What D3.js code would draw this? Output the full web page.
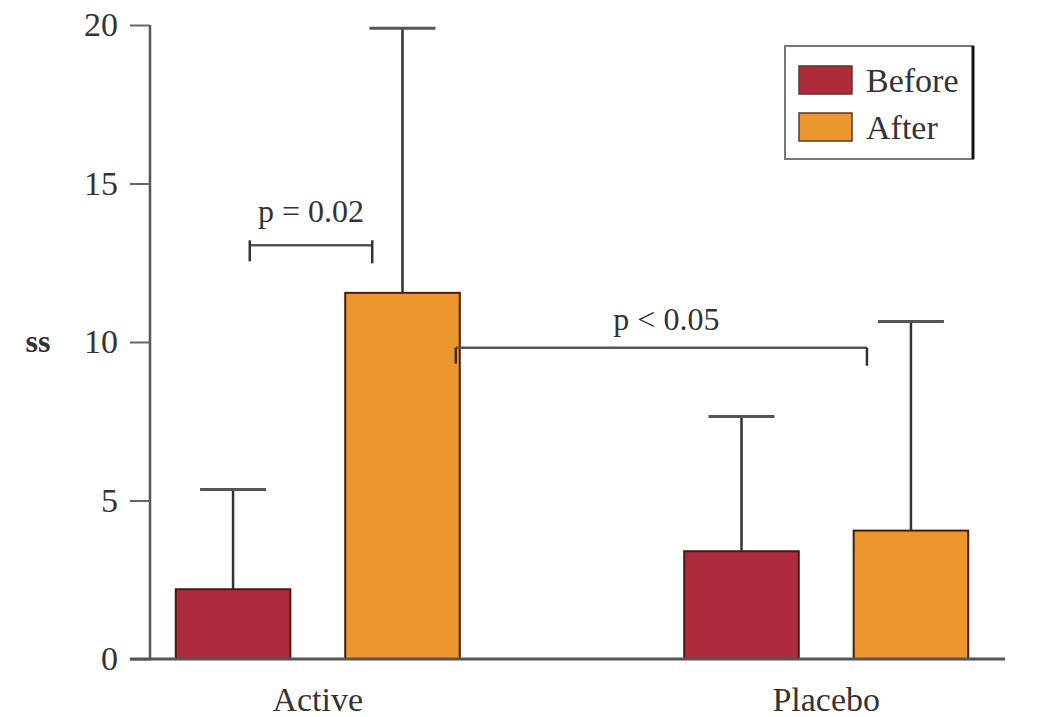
<!DOCTYPE html>
<html>
<head>
<meta charset="utf-8">
<script src="https://cdn.jsdelivr.net/npm/d3@7"></script>
<style>
  html, body { margin: 0; padding: 0; background: #fff; }
  svg { display: block; }
  text { font-family: "Liberation Serif", "DejaVu Serif", serif; fill: #333; }
</style>
</head>
<body>
<svg id="chart" width="1041" height="717"></svg>
<script>
// Groups and series
const groups = ["Active", "Placebo"];
const series = ["Before", "After"];
const colors = ["#ad2b3b", "#ec962e"];

// Mean and upper error (mean + SD) per group, per series
const beforeMean = [2.2, 3.4];
const beforeUpper = [5.35, 7.65];
const afterMean = [11.55, 4.05];
const afterUpper = [19.9, 10.65];

const yTicks = [0, 5, 10, 15, 20];

// Significance brackets: [group, series] at each end
const brackets = [
  { label: "p = 0.02", y: 13.05, from: [0, 0], to: [0, 1], leftEdge: false, textY: 14.05 },
  { label: "p < 0.05", y: 9.82, from: [0, 1], to: [1, 1], leftEdge: true, textY: 10.62 }
];

const rows = groups.map((g, i) => ({
  group: g,
  vals: [
    { s: 0, mean: beforeMean[i], upper: beforeUpper[i] },
    { s: 1, mean: afterMean[i], upper: afterUpper[i] }
  ]
}));

const svg = d3.select("#chart");
const x0 = 150, xEnd = 1005, yTop = 25, yBottom = 659;

const y = d3.scaleLinear().domain([0, 20]).range([yBottom, yTop]);
const gx = d3.scalePoint().domain(groups).range([x0, 994]).padding(0.33);
const bx = d3.scaleBand().domain(series).range([-142, 142]).paddingInner(0.324);

const barLeft = (gi, s) => gx(groups[gi]) + bx(series[s]);
const barCenter = (gi, s) => barLeft(gi, s) + bx.bandwidth() / 2;

// Bars
const grp = svg.selectAll("g.grp").data(rows).join("g")
  .attr("class", "grp")
  .attr("transform", d => `translate(${gx(d.group)},0)`);

grp.selectAll("rect").data(d => d.vals).join("rect")
  .attr("x", d => bx(series[d.s]))
  .attr("y", d => y(d.mean))
  .attr("width", bx.bandwidth())
  .attr("height", d => y(0) - y(d.mean))
  .attr("fill", d => colors[d.s])
  .attr("stroke", "#4a1a10")
  .attr("stroke-width", 2);

// Error bars (upper only)
const capW = 66;
const eb = grp.selectAll("g.eb").data(d => d.vals).join("g").attr("class", "eb")
  .attr("transform", d => `translate(${bx(series[d.s]) + bx.bandwidth() / 2},0)`);
eb.append("line")
  .attr("x1", 0).attr("x2", 0)
  .attr("y1", d => y(d.mean)).attr("y2", d => y(d.upper))
  .attr("stroke", "#333").attr("stroke-width", 2.5);
eb.append("line")
  .attr("x1", -capW / 2).attr("x2", capW / 2)
  .attr("y1", d => y(d.upper)).attr("y2", d => y(d.upper))
  .attr("stroke", "#555").attr("stroke-width", 3);

// Y axis
const yAxis = d3.axisLeft(y).tickValues(yTicks).tickSize(20).tickPadding(12).tickFormat(d3.format("d"));
const ya = svg.append("g").attr("transform", `translate(${x0},0)`).call(yAxis);
ya.select(".domain").attr("stroke", "#555").attr("stroke-width", 2.5).attr("d", `M0,${yTop}V${yBottom}`);
ya.selectAll(".tick line").attr("stroke", "#666").attr("stroke-width", 2);
ya.selectAll(".tick text").attr("font-size", 34).attr("fill", "#666")
  .attr("font-family", "'Liberation Serif', serif");

// X axis baseline
svg.append("line")
  .attr("x1", x0 - 20).attr("x2", xEnd)
  .attr("y1", y(0)).attr("y2", y(0))
  .attr("stroke", "#555").attr("stroke-width", 3);

// Group labels
svg.selectAll("text.glabel").data(groups).join("text")
  .attr("class", "glabel")
  .attr("x", d => gx(d))
  .attr("y", 711)
  .attr("text-anchor", "middle")
  .attr("font-size", 34)
  .attr("fill", "#444")
  .text(d => d);

// Y label
svg.append("text")
  .attr("x", 38).attr("y", 352)
  .attr("text-anchor", "middle")
  .attr("font-size", 32)
  .attr("font-weight", "bold")
  .attr("fill", "#111")
  .text("ss");

// Significance brackets
brackets.forEach(b => {
  const xa = b.leftEdge ? barLeft(b.from[0], b.from[1]) + bx.bandwidth() - 4 : barLeft(b.from[0], b.from[1]) + 74;
  const xb = b.leftEdge ? barCenter(b.to[0], b.to[1]) - 44 : barLeft(b.to[0], b.to[1]) + 27;
  const yy = y(b.y);
  const g = svg.append("g");
  g.append("line").attr("x1", xa).attr("x2", xb).attr("y1", yy).attr("y2", yy)
    .attr("stroke", "#555").attr("stroke-width", 2.5);
  g.append("line").attr("x1", xa).attr("x2", xa).attr("y1", yy - (b.leftEdge ? 0 : 5)).attr("y2", yy + 16)
    .attr("stroke", "#333").attr("stroke-width", 2.5);
  g.append("line").attr("x1", xb).attr("x2", xb).attr("y1", yy - (b.leftEdge ? 0 : 5)).attr("y2", yy + 18)
    .attr("stroke", "#333").attr("stroke-width", 2.5);
  g.append("text")
    .attr("x", b.leftEdge ? (xa + xb) / 2 + 5 : (xa + xb) / 2)
    .attr("y", y(b.textY) + 8)
    .attr("text-anchor", "middle")
    .attr("font-size", 32)
    .attr("fill", "#555")
    .text(b.label);
});

// Legend
const lg = svg.append("g").attr("transform", "translate(785,46)");
lg.append("rect").attr("width", 188).attr("height", 113)
  .attr("fill", "#fff").attr("stroke", "#777").attr("stroke-width", 2);
lg.append("line").attr("x1", 188).attr("x2", 188).attr("y1", 0).attr("y2", 113)
  .attr("stroke", "#111").attr("stroke-width", 3);
series.forEach((s, i) => {
  const row = lg.append("g").attr("transform", `translate(14,${20 + i * 47})`);
  row.append("rect").attr("width", 53).attr("height", 28)
    .attr("fill", colors[i]).attr("stroke", "#5a3a2a").attr("stroke-width", 1.5);
  row.append("text").attr("x", 67).attr("y", 26)
    .attr("font-size", 34).attr("fill", "#444").text(s);
});
</script>
</body>
</html>
